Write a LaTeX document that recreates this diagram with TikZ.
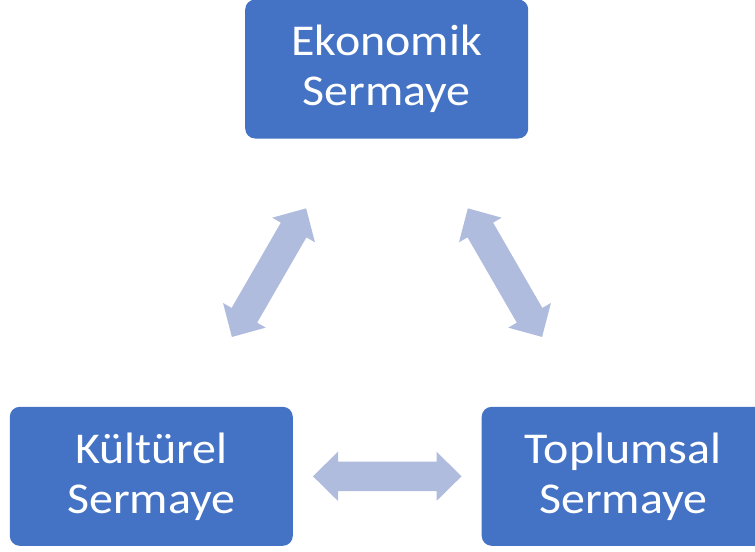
\documentclass[tikz,border=0pt]{standalone}
\usepackage{fontspec}
\setmainfont{Carlito}[FakeStretch=1.09]
\usetikzlibrary{calc}
\definecolor{boxblue}{RGB}{68,114,196}
\definecolor{arrowblue}{RGB}{176,188,222}
\tikzset{
  capbox/.style={fill=boxblue, rounded corners=7.5pt, minimum width=212.25pt,
    minimum height=104.25pt, align=center, text=white, inner sep=0pt,
    font=\fontsize{33pt}{37.5pt}\selectfont},
  dblarr/.pic={
    \fill[arrowblue] (-74.25,0) -- (-49.25,24.65) -- (-49.25,14.75) -- (49.25,14.75)
      -- (49.25,24.65) -- (74.25,0) -- (49.25,-24.65) -- (49.25,-14.75)
      -- (-49.25,-14.75) -- (-49.25,-24.65) -- cycle;
  }
}
\begin{document}
\begin{tikzpicture}[x=0.75pt,y=-0.75pt]
\useasboundingbox (0,0) rectangle (755,551);
\begin{scope}
\clip (0,0) rectangle (755,551);
\node[capbox] (eko) at (386.7,69) {Ekonomik\\Sermaye};
\node[capbox] (kul) at (151.3,476.3) {Kültürel\\Sermaye};
\node[capbox] (top) at (623.2,476.3) {Toplumsal\\Sermaye};
\end{scope}
\coordinate (m1) at ($(eko)!0.5!(kul)$);
\coordinate (m2) at ($(eko)!0.5!(top)$);
\coordinate (m3) at ($(kul)!0.5!(top)$);
\pic[rotate=60] at (m1) {dblarr};
\pic[rotate=-60] at (m2) {dblarr};
\pic at (m3) {dblarr};
\end{tikzpicture}
\end{document}
